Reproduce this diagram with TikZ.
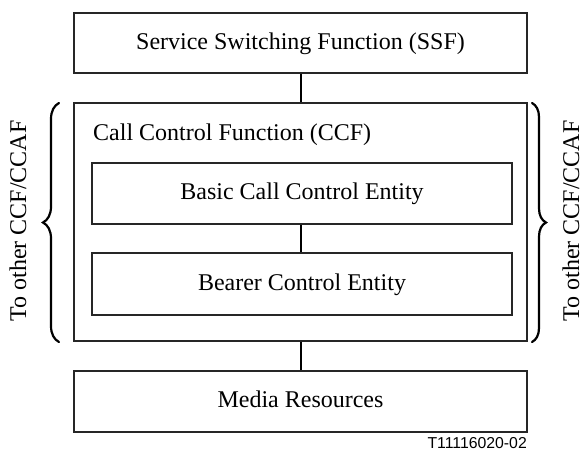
\documentclass[tikz,border=0pt]{standalone}
\usepackage{fontspec}
\setmainfont{Liberation Serif}
\newfontfamily\labelfont{Liberation Sans}
\usetikzlibrary{decorations.pathreplacing}

\tikzset{
  box/.style={draw=black!85, line width=1.2pt, rectangle, inner sep=0pt,
    font=\fontsize{24}{28}\selectfont, text height=16pt, text depth=4pt},
  conn/.style={draw=black, line width=2pt},
  curly/.style={draw=black, line width=2.2pt, line cap=round, decorate,
    decoration={brace, amplitude=#1}},
  curly/.default=15pt,
  sidetext/.style={font=\fontsize{24}{28}\selectfont, rotate=90, anchor=base},
}

\begin{document}
\begin{tikzpicture}[x=1pt, y=-1pt]
  \useasboundingbox (0,0) rectangle (583,451);

  % top-level function boxes
  \node[box, minimum width=453pt, minimum height=60pt] (ssf) at (300.5,43)
    {Service Switching Function (SSF)};
  \node[box, minimum width=453pt, minimum height=238pt] (ccf) at (300.5,222) {};
  \node[font=\fontsize{24}{28}\selectfont, anchor=base west, inner sep=0pt]
    (ccflabel) at (93,140) {Call Control Function (CCF)};

  % entities inside the call control function
  \node[box, minimum width=420pt, minimum height=61pt] (bcce) at (302,193.5)
    {Basic Call Control Entity};
  \node[box, minimum width=420pt, minimum height=62pt] (bce) at (302,284)
    {Bearer Control Entity};

  \node[box, minimum width=453pt, minimum height=61pt] (media) at (300.5,401.5)
    {Media Resources};

  % connections
  \draw[conn] (ssf.south) -- (ccf.north);
  \draw[conn] (bcce.south -| ccf.north) -- (bce.north -| ccf.north);
  \draw[conn] (ccf.south) -- (media.north);

  % braces towards the neighbouring CCF/CCAF
  \coordinate (lbt) at (59,103);
  \coordinate (lbb) at (59,342);
  \coordinate (rbt) at (532,103);
  \coordinate (rbb) at (532,342);
  \draw[curly=16pt] (lbb) -- (lbt);
  \draw[curly=14pt] (rbt) -- (rbb);
  \node[sidetext] (lside) at (26,221) {To other CCF/CCAF};
  \node[sidetext] (rside) at (579,221) {To other CCF/CCAF};

  % figure reference
  \node[font=\labelfont\fontsize{15.8}{18}\selectfont, anchor=base east, inner sep=0pt]
    (figref) at (527,448) {T11116020-02};
\end{tikzpicture}
\end{document}
